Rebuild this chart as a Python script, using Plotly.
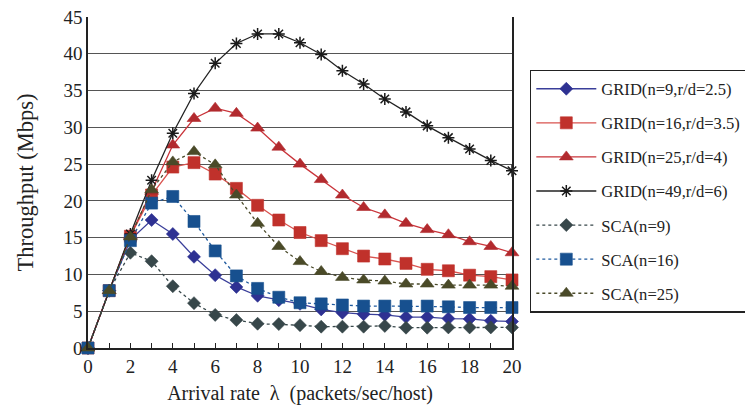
import plotly.graph_objects as go

x = list(range(0, 21))

grid9 = [0, 7.8, 14.7, 17.4, 15.5, 12.4, 9.9, 8.3, 7.1, 6.5, 6.0, 5.25, 4.8, 4.6, 4.5, 4.2, 4.2, 4.0, 3.95, 3.7, 3.6]
grid16 = [0, 7.8, 15.2, 20.8, 24.6, 25.2, 23.65, 21.7, 19.4, 17.4, 15.7, 14.6, 13.5, 12.5, 12.1, 11.5, 10.7, 10.5, 9.9, 9.7, 9.25]
grid25 = [0, 7.8, 15.3, 21.3, 27.6, 31.2, 32.6, 31.9, 29.9, 27.3, 25.0, 22.9, 20.8, 19.1, 18.1, 16.95, 16.1, 15.4, 14.45, 13.8, 12.95]
grid49 = [0, 7.8, 15.5, 22.8, 29.2, 34.6, 38.7, 41.4, 42.7, 42.7, 41.5, 39.9, 37.7, 35.9, 33.85, 32.1, 30.2, 28.6, 27.05, 25.5, 24.1]
sca9 = [0, 7.8, 12.95, 11.8, 8.4, 6.1, 4.5, 3.8, 3.3, 3.25, 3.1, 2.9, 2.9, 2.9, 3.0, 2.76, 2.76, 2.8, 2.8, 2.8, 2.8]
sca16 = [0, 7.8, 14.6, 19.7, 20.6, 17.2, 13.2, 9.8, 8.1, 6.9, 6.15, 6.0, 5.85, 5.7, 5.7, 5.7, 5.7, 5.6, 5.5, 5.5, 5.5]
sca25 = [0, 7.8, 15.1, 21.5, 25.3, 26.7, 24.9, 20.8, 16.95, 13.8, 11.75, 10.4, 9.6, 9.25, 9.1, 8.7, 8.7, 8.55, 8.55, 8.55, 8.4]

names = ["GRID(n=9,r/d=2.5)", "GRID(n=16,r/d=3.5)", "GRID(n=25,r/d=4)", "GRID(n=49,r/d=6)",
         "SCA(n=9)", "SCA(n=16)", "SCA(n=25)"]
series = [grid9, grid16, grid25, grid49, sca9, sca16, sca25]
line_colors = ["#3a3f9a", "#d9534f", "#c9343a", "#222222", "#37474a", "#1f5a9e", "#4a4a2a"]
marker_colors = ["#2e3192", "#c0312b", "#b22a2e", "#1a1a1a", "#37474a", "#17508f", "#4a4a28"]
symbols = ["diamond", "square", "triangle-up", "asterisk-open", "diamond", "square", "triangle-up"]
sizes = [10, 12, 12, 10, 10, 12, 12]
dashes = ["solid", "solid", "solid", "solid", "dot", "dot", "dot"]

fig = go.Figure()
for i, (nm, ys) in enumerate(zip(names, series)):
    mk = dict(symbol=symbols[i], size=sizes[i], color=marker_colors[i],
              line=dict(width=1.5 if symbols[i] == "asterisk-open" else 0.6,
                        color=marker_colors[i]))
    fig.add_trace(go.Scatter(
        x=x, y=ys, name=nm, mode="lines+markers",
        line=dict(color=line_colors[i], width=1.3, dash=dashes[i]),
        marker=mk, cliponaxis=False, legendgroup=str(i),
    ))

font_family = "Liberation Serif, Times New Roman, serif"
fig.update_layout(
    width=745, height=414,
    margin=dict(l=88, r=233, t=17, b=66, autoexpand=False),
    paper_bgcolor="white", plot_bgcolor="white",
    font=dict(family=font_family, size=19, color="#222"),
    showlegend=True,
    legend=dict(
        x=1.042, y=0.84, xanchor="left", yanchor="top",
        bordercolor="#222", borderwidth=1.5,
        font=dict(family=font_family, size=16.6, color="#222"),
        tracegroupgap=9.5, itemwidth=60,
    ),
    xaxis=dict(
        range=[0, 20], tickvals=list(range(0, 21, 2)),
        showgrid=False, zeroline=False,
        showline=True, linecolor="#222", linewidth=1.5,
        ticks="inside", ticklen=5, tickcolor="#222",
        minor=dict(dtick=1, ticks="inside", ticklen=5, tickcolor="#222"),
        tickfont=dict(size=19),
        title=dict(text="Arrival rate  \u03bb  (packets/sec/host)", font=dict(size=20), standoff=10),
    ),
    yaxis=dict(
        range=[0, 45], dtick=5,
        showgrid=True, gridcolor="#555", gridwidth=1,
        zeroline=False,
        showline=True, linecolor="#222", linewidth=1.5, mirror=True,
        ticks="outside", ticklen=0,
        tickfont=dict(size=19),
        title=dict(text="Throughput (Mbps)", font=dict(size=22.5), standoff=24),
    ),
)

fig.write_html("out.html")
